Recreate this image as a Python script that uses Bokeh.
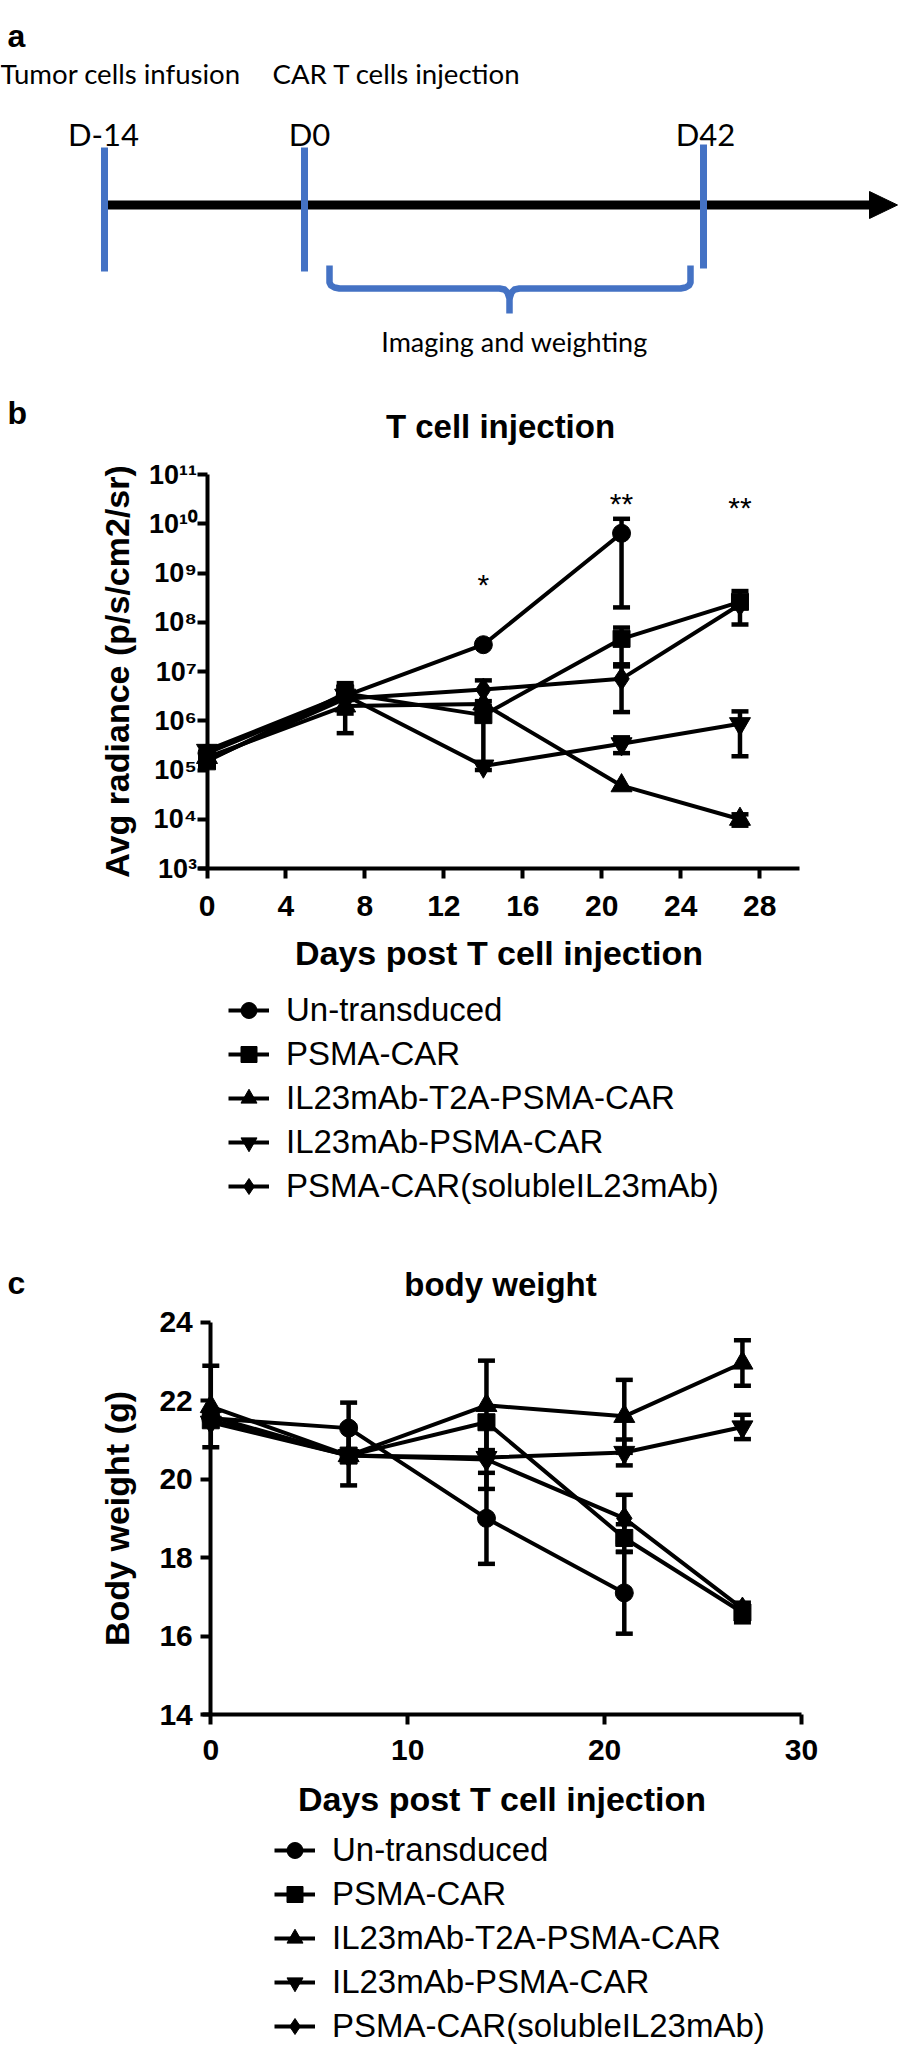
import math
import numpy as np
from bokeh.plotting import figure
from bokeh.models import (Range1d, FixedTicker, Legend, LegendItem, LinearAxis, LogAxis,
                          LinearScale, LogScale)
from bokeh.core.properties import value
from bokeh.embed import file_html
from bokeh.resources import INLINE

nan = float("nan")

# ---------------- panel a : timeline ----------------
timeline_marks = ["D-14", "D0", "D42"]
timeline_events = ["Tumor cells infusion", "CAR T cells injection"]
timeline_period = "Imaging and weighting"

# ---------------- panels b / c : shared ----------------
days = [0, 7, 14, 21, 27]
group_names = ["Un-transduced", "PSMA-CAR", "IL23mAb-T2A-PSMA-CAR",
               "IL23mAb-PSMA-CAR", "PSMA-CAR(solubleIL23mAb)"]
group_markers = ["circle", "square", "triangle", "inverted_triangle", "diamond"]

# panel b : average radiance (p/s/cm2/sr), mean and SEM
rad_untransduced = [2.2e5, 3.2e6, 3.5e7, 6.4e9, nan]
rad_psma = [1.5e5, 3.6e6, 1.3e6, 4.6e7, 2.6e8]
rad_t2a = [1.8e5, 2.0e6, 2.2e6, 4.8e4, 1.0e4]
rad_il23 = [2.5e5, 3.3e6, 1.2e5, 3.4e5, 8.7e5]
rad_soluble = [1.6e5, 2.8e6, 4.3e6, 7.1e6, 2.3e8]

rad_err_untransduced = [nan, nan, nan, 6.2e9, nan]
rad_err_psma = [nan, 2.2e6, 1.2e6, 3.2e7, 1.7e8]
rad_err_t2a = [nan, 1.44e6, nan, nan, 2.6e3]
rad_err_il23 = [nan, nan, nan, 1.2e5, 6.8e5]
rad_err_soluble = [nan, nan, 2.3e6, 5.6e6, nan]

rad_ticks = [1e3, 1e4, 1e5, 1e6, 1e7, 1e8, 1e9, 1e10, 1e11]
rad_day_ticks = [0, 4, 8, 12, 16, 20, 24, 28]

sig_days = [14, 21, 27]
sig_labels = ["*", "**", "**"]
sig_radiance = [7.4e8, 3.3e10, 2.7e10]

# panel c : body weight (g), mean and SEM
bw_untransduced = [21.55, 21.3, 19.0, 17.1, nan]
bw_psma = [21.5, 20.6, 21.45, 18.5, 16.6]
bw_t2a = [21.85, 20.6, 21.88, 21.6, 22.96]
bw_il23 = [21.45, 20.6, 20.55, 20.68, 21.33]
bw_soluble = [21.6, 20.6, 20.5, 19.0, 16.7]

bw_err_untransduced = [nan, 0.65, 1.16, 1.04, nan]
bw_err_psma = [nan, 0.76, nan, 0.35, 0.25]
bw_err_t2a = [1.04, nan, 1.14, 0.93, 0.58]
bw_err_il23 = [nan, nan, 0.8, 0.33, 0.31]
bw_err_soluble = [nan, nan, nan, 0.6, nan]

bw_ticks = [14, 16, 18, 20, 22, 24]
bw_day_ticks = [0, 10, 20, 30]

# ---------------- page geometry (page pixels) ----------------
FONT = "Liberation Sans"
BLUE = "#4472C4"
PX0, PX1, PY0, PY1 = 0, 898, 0, 2053          # canvas in page pixels
W, H = PX1 - PX0, PY1 - PY0

p = figure(width=W, height=H, x_range=Range1d(PX0, PX1), y_range=Range1d(PY1, PY0),
           x_axis_type=None, y_axis_type=None, toolbar_location=None,
           output_backend="svg", min_border=0, outline_line_color=None)
p.background_fill_color = "white"


def x_range_for(px_zero, px_per_unit):
    return Range1d((PX0 - px_zero) / px_per_unit, (PX1 - px_zero) / px_per_unit)


def y_range_for(py_ref, v_ref, px_per_unit, log=False):
    lo = v_ref - (PY1 - py_ref) / px_per_unit
    hi = v_ref + (py_ref - PY0) / px_per_unit
    if log:
        return Range1d(10 ** lo, 10 ** hi)
    return Range1d(lo, hi)


# panel b plot area: day 0 at x=206.5, 19.74 px/day ; 1e3 at y=868, 49.25 px/decade
# panel c plot area: day 0 at x=210.3, 19.69 px/day ; 14 g at y=1714, 39.23 px/g
p.extra_x_ranges = {"bx": x_range_for(206.5, 19.74), "cx": x_range_for(210.3, 19.69)}
p.extra_y_ranges = {"by": y_range_for(868, 3, 49.25, log=True),
                    "cy": y_range_for(1714, 14, 39.23)}
p.extra_x_scales = {"bx": LinearScale(), "cx": LinearScale()}
p.extra_y_scales = {"by": LogScale(), "cy": LinearScale()}

# =============== panel a ===============
mark_x = [104, 304, 703]
mark_top = [147, 147, 144]
mark_bot = [271, 271, 268]
axis_y = 204.5
p.segment(x0=[104], y0=[axis_y], x1=[872], y1=[axis_y], line_width=9, line_color="black")
p.patch([869, 869, 897], [191, 218, axis_y], fill_color="black", line_color="black")
p.segment(x0=mark_x, y0=mark_top, x1=mark_x, y1=mark_bot, line_width=7, line_color=BLUE)
bl, br, bt, bm, bc, bb = 329, 690, 265, 288, 509, 313
p.line([bl, bl, bl + 1.5, bl + 5, bl + 10, bc - 10, bc - 5, bc - 2, bc, bc],
       [bt, bm - 6, bm - 3, bm - 1, bm, bm, bm + 1, bm + 4, bm + 10, bb],
       line_width=6.5, line_color=BLUE, line_join="round")
p.line([br, br, br - 1.5, br - 5, br - 10, bc + 10, bc + 5, bc + 2, bc],
       [bt, bm - 6, bm - 3, bm - 1, bm, bm, bm + 1, bm + 4, bm + 10],
       line_width=6.5, line_color=BLUE, line_join="round")
p.text(x=[7], y=[35], text=["a"], text_font=value(FONT), text_font_style="bold",
       text_font_size="32px", text_baseline="alphabetic", text_align="left")
p.text(x=[0, 272], y=[73, 73], text=timeline_events, text_font=value("Lato"),
       text_font_size="27.6px", text_baseline="alphabetic", text_align="left")
p.text(x=[103, 309, 705], y=[133, 133, 133], text=timeline_marks, text_font=value("Lato"),
       text_font_size="31px", text_baseline="alphabetic", text_align="center")
p.text(x=[514], y=[341], text=[timeline_period], text_font=value("Lato"),
       text_font_size="27px", text_baseline="alphabetic", text_align="center")


def style_axis(ax, label_standoff, title_standoff, label_size="30px"):
    ax.axis_line_width = 4
    ax.axis_line_color = "black"
    ax.major_tick_line_width = 4
    ax.major_tick_line_color = "black"
    ax.major_tick_out = 10
    ax.major_tick_in = 0
    ax.minor_tick_line_color = None
    ax.major_label_text_font = FONT
    ax.major_label_text_font_style = "bold"
    ax.major_label_text_font_size = label_size
    ax.major_label_text_color = "black"
    ax.major_label_standoff = label_standoff
    ax.axis_label_text_font = FONT
    ax.axis_label_text_font_style = "bold"
    ax.axis_label_text_font_size = "34px"
    ax.axis_label_text_color = "black"
    ax.axis_label_standoff = title_standoff


def draw_groups(xr, yr, means_list, errs_list):
    sizes = [18, 17, 21, 21, 23]
    items = []
    for name, marker, ys, es, sz in zip(group_names, group_markers, means_list, errs_list, sizes):
        ex = [d for d, e in zip(days, es) if not math.isnan(e)]
        lo = [y - e for y, e in zip(ys, es) if not math.isnan(e)]
        hi = [y + e for y, e in zip(ys, es) if not math.isnan(e)]
        if ex:
            p.segment(x0=ex, y0=lo, x1=ex, y1=hi, line_width=4.5, line_color="black",
                      x_range_name=xr, y_range_name=yr)
            p.scatter(x=ex + ex, y=lo + hi, marker="dash", size=17, line_width=4.5,
                      line_color="black", x_range_name=xr, y_range_name=yr)
        lr = p.line(x=np.array(days, float), y=np.array(ys, float), line_width=4,
                    line_color="black", x_range_name=xr, y_range_name=yr)
        sr = p.scatter(x=np.array(days, float), y=np.array(ys, float), marker=marker,
                       size=sz, fill_color="black", line_color="black",
                       x_range_name=xr, y_range_name=yr)
        items.append(LegendItem(label=name, renderers=[lr, sr]))
    return items


def add_legend(items, left_px, top_px, spacing):
    n = len(items)
    height = n * 40 + (n - 1) * spacing
    lg = Legend(items=items, location=(left_px - PX0, PY1 - top_px - height),
                orientation="vertical", glyph_width=41, glyph_height=40, label_height=40,
                spacing=spacing, padding=0, margin=0, label_standoff=17,
                border_line_color=None, background_fill_alpha=0, label_text_font=FONT,
                label_text_font_size="33px", label_text_color="black")
    p.add_layout(lg)


# =============== panel b ===============
bxa = LinearAxis(x_range_name="bx", y_range_name="by", fixed_location=1e3,
                 bounds=(-0.43, 30), ticker=FixedTicker(ticks=rad_day_ticks),
                 axis_label="Days post T cell injection")
style_axis(bxa, 17, 15)
p.add_layout(bxa, "below")
sup = str.maketrans("0123456789", "\u2070\u00b9\u00b2\u00b3\u2074\u2075\u2076\u2077\u2078\u2079")
bya = LogAxis(x_range_name="bx", y_range_name="by", fixed_location=0, bounds=(1e3, 1e11),
              ticker=FixedTicker(ticks=rad_ticks), axis_label="Avg radiance (p/s/cm2/sr)")
bya.major_label_overrides = {t: "10" + str(int(round(math.log10(t)))).translate(sup)
                             for t in rad_ticks}
style_axis(bya, 0, 10, label_size="27px")
p.add_layout(bya, "left")

b_items = draw_groups("bx", "by", [rad_untransduced, rad_psma, rad_t2a, rad_il23, rad_soluble],
                      [rad_err_untransduced, rad_err_psma, rad_err_t2a, rad_err_il23,
                       rad_err_soluble])
p.text(x=sig_days, y=sig_radiance, text=sig_labels, text_align="center",
       text_baseline="middle", y_offset=5, text_font=value(FONT), text_font_size="30px",
       text_color="black", x_range_name="bx", y_range_name="by")
add_legend(b_items, 228, 990, 4)

p.text(x=[500], y=[426], text=["T cell injection"], text_align="center",
       text_baseline="middle", text_font=value(FONT), text_font_style="bold",
       text_font_size="33px", text_color="black")
p.text(x=[7], y=[412], text=["b"], text_align="left", text_baseline="alphabetic",
       text_font=value(FONT), text_font_style="bold", text_font_size="32px",
       text_color="black")

# =============== panel c ===============
cxa = LinearAxis(x_range_name="cx", y_range_name="cy", fixed_location=14,
                 bounds=(-0.42, 30), ticker=FixedTicker(ticks=bw_day_ticks),
                 axis_label="Days post T cell injection")
style_axis(cxa, 15, 17)
p.add_layout(cxa, "below")
cya = LinearAxis(x_range_name="cx", y_range_name="cy", fixed_location=0, bounds=(14, 24),
                 ticker=FixedTicker(ticks=bw_ticks), axis_label="Body weight (g)")
style_axis(cya, 8, 20)
p.add_layout(cya, "left")

c_items = draw_groups("cx", "cy", [bw_untransduced, bw_psma, bw_t2a, bw_il23, bw_soluble],
                      [bw_err_untransduced, bw_err_psma, bw_err_t2a, bw_err_il23,
                       bw_err_soluble])
add_legend(c_items, 274, 1830, 4)

p.text(x=[500], y=[1284], text=["body weight"], text_align="center",
       text_baseline="middle", text_font=value(FONT), text_font_style="bold",
       text_font_size="33px", text_color="black")
p.text(x=[7], y=[1282], text=["c"], text_align="left", text_baseline="alphabetic",
       text_font=value(FONT), text_font_style="bold", text_font_size="32px",
       text_color="black")

open("out.html", "w").write(file_html(p, INLINE))
